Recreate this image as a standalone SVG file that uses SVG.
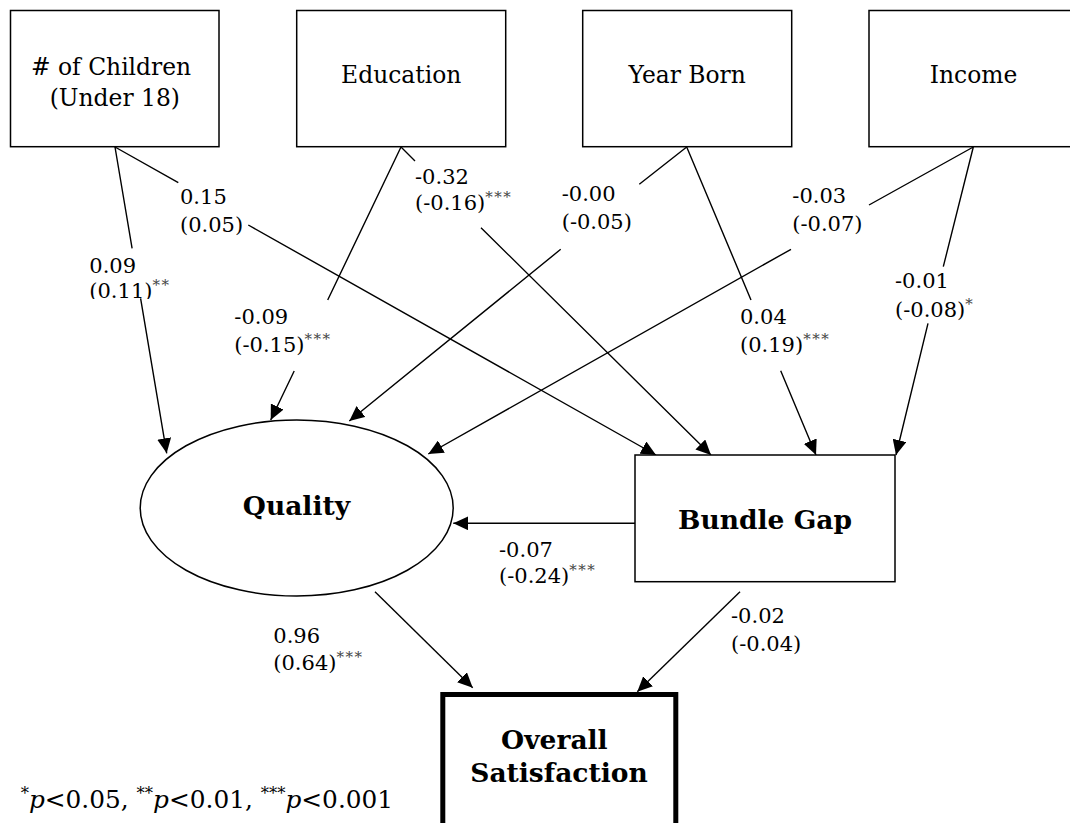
<svg xmlns="http://www.w3.org/2000/svg" width="1070" height="823" viewBox="0 0 1070 823">
<style>
  text { font-family: "DejaVu Serif", "Liberation Serif", serif; fill: #000; }
  .box { fill: #fff; stroke: #000; stroke-width: 1.5; }
  .lbl { font-size: 23.4px; text-anchor: middle; }
  .bold { font-size: 26.5px; font-weight: bold; text-anchor: middle; }
  .coef { font-size: 21px; }
  .star { font-size: 15px; fill: #444; letter-spacing: 1.5px; }
  .conn { fill: none; stroke: #000; stroke-width: 1.4; marker-end: url(#arr); }
</style>
<defs>
  <marker id="arr" viewBox="0 0 15 14" refX="15" refY="7" markerUnits="userSpaceOnUse" markerWidth="15" markerHeight="14" orient="auto">
    <path d="M0,0 L15,7 L0,14 z" fill="#000"/>
  </marker>
  <clipPath id="clip009"><rect x="60" y="240" width="130" height="59"/></clipPath>
</defs>
<rect width="1070" height="823" fill="#fff"/>

<g id="connectors">
  <path class="conn" d="M115,147 L132.1,248.3 M140.6,298.3 L166.7,453.3"/>
  <path class="conn" d="M115,147 L178.3,182.7 M248.3,225 L656,455"/>
  <path class="conn" d="M401,147 L327.7,300 M294.2,371 L270.7,420"/>
  <path class="conn" d="M401,147 L415,161 M481,227.7 L711,455"/>
  <path class="conn" d="M686.7,147 L639.3,184.3 M560.7,249.3 L349.3,421"/>
  <path class="conn" d="M686.7,147 L751,300 M780.7,370.7 L816,455"/>
  <path class="conn" d="M973.3,147 L869,205 M791,249.3 L428.3,454"/>
  <path class="conn" d="M973.3,147 L943.3,266.7 M928,323.3 L896,455"/>
  <path class="conn" d="M635,523.3 L453.3,523.3"/>
  <path class="conn" d="M375,591.7 L472.7,687.7"/>
  <path class="conn" d="M740,591.7 L637.3,691.7"/>
</g>

<g id="node-children">
  <rect class="box" x="10.5" y="10.5" width="208.5" height="136.2"/>
  <text class="lbl" x="114.8" y="75">
    <tspan x="114.8" y="75"># of Children</tspan>
    <tspan x="114.8" y="106">(Under 18)</tspan>
  </text>
</g>
<g id="node-education">
  <rect class="box" x="296.7" y="10.5" width="209" height="136.2"/>
  <text class="lbl" x="401.2" y="83.3">Education</text>
</g>
<g id="node-yearborn">
  <rect class="box" x="582.7" y="10.5" width="209" height="136.2"/>
  <text class="lbl" x="687.2" y="83.3">Year Born</text>
</g>
<g id="node-income">
  <rect class="box" x="869" y="10.5" width="209" height="136.2"/>
  <text class="lbl" x="973.5" y="83.3">Income</text>
</g>
<g id="node-quality">
  <ellipse class="box" cx="296.7" cy="508" rx="156.5" ry="88"/>
  <text class="bold" x="296.5" y="515">Quality</text>
</g>
<g id="node-bundlegap">
  <rect class="box" x="635" y="455" width="260" height="126.7"/>
  <text class="bold" x="765" y="529">Bundle Gap</text>
</g>
<g id="node-overall">
  <rect x="442.8" y="694.5" width="233" height="140" fill="#fff" stroke="#000" stroke-width="5"/>
  <text class="bold" x="559" y="749.3">
    <tspan x="559" y="749.3">Overall</tspan>
    <tspan x="559" y="781.7">Satisfaction</tspan>
  </text>
</g>

<g id="labels">
  <text class="coef" clip-path="url(#clip009)"><tspan x="89.3" y="273.3">0.09</tspan><tspan x="89.3" y="298">(0.11)</tspan><tspan class="star" dy="-8">**</tspan></text>
  <text class="coef"><tspan x="180" y="204">0.15</tspan><tspan x="180" y="231.7">(0.05)</tspan></text>
  <text class="coef"><tspan x="415" y="184.3">-0.32</tspan><tspan x="415" y="210">(-0.16)</tspan><tspan class="star" dy="-8">***</tspan></text>
  <text class="coef"><tspan x="561.7" y="201">-0.00</tspan><tspan x="561.7" y="229.3">(-0.05)</tspan></text>
  <text class="coef"><tspan x="792.3" y="203">-0.03</tspan><tspan x="792.3" y="230.7">(-0.07)</tspan></text>
  <text class="coef"><tspan x="895" y="288.3">-0.01</tspan><tspan x="895" y="316.7">(-0.08)</tspan><tspan class="star" dy="-8">*</tspan></text>
  <text class="coef"><tspan x="234.3" y="324.3">-0.09</tspan><tspan x="234.3" y="351.7">(-0.15)</tspan><tspan class="star" dy="-8">***</tspan></text>
  <text class="coef"><tspan x="740" y="324.3">0.04</tspan><tspan x="740" y="351.7">(0.19)</tspan><tspan class="star" dy="-8">***</tspan></text>
  <text class="coef"><tspan x="499" y="557.3">-0.07</tspan><tspan x="499" y="583.3">(-0.24)</tspan><tspan class="star" dy="-8">***</tspan></text>
  <text class="coef"><tspan x="273.3" y="642.7">0.96</tspan><tspan x="273.3" y="670">(0.64)</tspan><tspan class="star" dy="-8">***</tspan></text>
  <text class="coef"><tspan x="731" y="623.3">-0.02</tspan><tspan x="731" y="650.7">(-0.04)</tspan></text>
</g>

<text id="footnote" x="20.7" y="808.3" font-size="24.8"><tspan font-size="16.5" dy="-9">*</tspan><tspan dy="9" font-style="italic">p</tspan>&lt;0.05, <tspan font-size="16.5" dy="-9">**</tspan><tspan dy="9" font-style="italic">p</tspan>&lt;0.01, <tspan font-size="16.5" dy="-9">***</tspan><tspan dy="9" font-style="italic">p</tspan>&lt;0.001</text>
</svg>
